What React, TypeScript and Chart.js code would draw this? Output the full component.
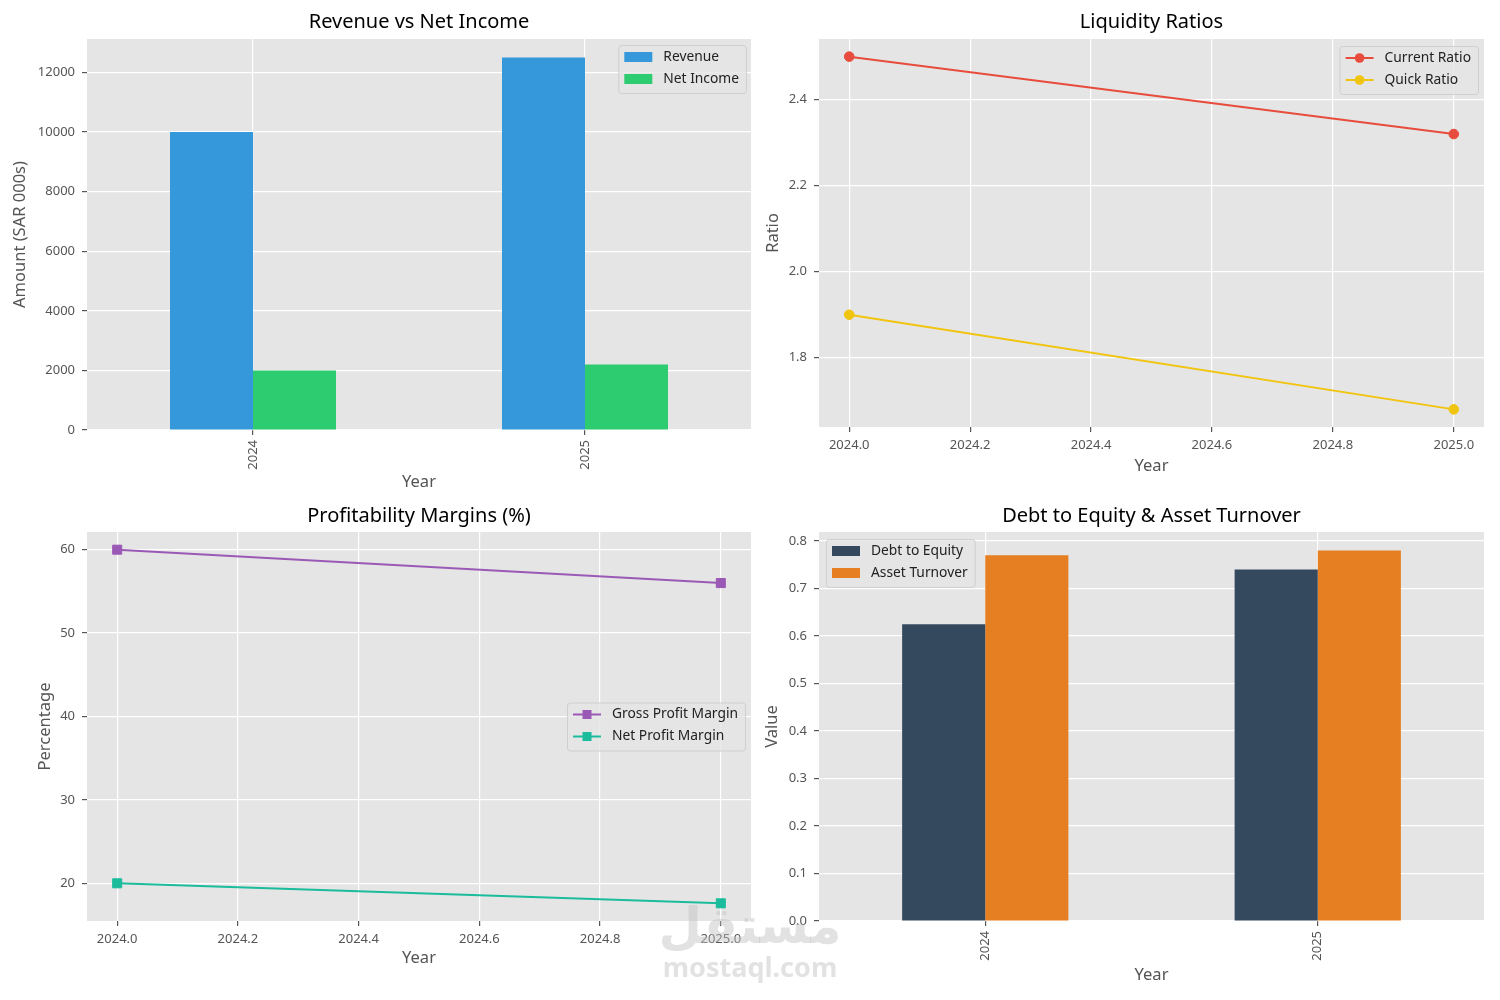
import React, { useEffect, useRef } from 'react';
import { Chart, registerables } from 'chart.js';

Chart.register(...registerables);

const FONT = '"Noto Sans", "Open Sans", sans-serif';

// ---------- data ----------
const YEARS = ['2024', '2025'];
const YEAR_VALUES = [2024, 2025];
const REVENUE = [10000, 12500];
const NET_INCOME = [2000, 2200];
const CURRENT_RATIO = [2.5, 2.32];
const QUICK_RATIO = [1.9, 1.68];
const GROSS_MARGIN = [60, 56];
const NET_MARGIN = [20, 17.6];
const DEBT_TO_EQUITY = [0.625, 0.74];
const ASSET_TURNOVER = [0.77, 0.78];

// ---------- tick labels ----------
const AMOUNT_TICKS = [0, 2000, 4000, 6000, 8000, 10000, 12000];
const RATIO_TICKS = [1.8, 2.0, 2.2, 2.4];
const PERCENT_TICKS = [20, 30, 40, 50, 60];
const VALUE_TICKS = [0, 0.1, 0.2, 0.3, 0.4, 0.5, 0.6, 0.7, 0.8];
const YEAR_TICKS = [2024.0, 2024.2, 2024.4, 2024.6, 2024.8, 2025.0];

type Item = { label: string; color: string; kind: 'patch' | 'line'; marker?: 'circle' | 'rect' };
type Spec = {
  left: number; top: number; width: number; height: number;
  area: [number, number, number, number];
  titleCenter: number; yTitleCenter: number; xTitleCenter: number;
  legend: { items: Item[]; anchor: 'ur' | 'ul' | 'cr'; dx: number; dy: number };
  build: (spec: Spec) => any;
};

const bgPlugin = {
  id: 'ggBg',
  beforeDraw(chart: any) {
    const { ctx, chartArea: a } = chart;
    ctx.save();
    ctx.fillStyle = '#e5e5e5';
    ctx.fillRect(a.left, a.top, a.right - a.left, a.bottom - a.top);
    ctx.restore();
  },
};

function legendPlugin(spec: Spec) {
  const { items, anchor, dx, dy } = spec.legend;
  return {
    id: 'ggLegend',
    afterDraw(chart: any) {
      const ctx = chart.ctx as CanvasRenderingContext2D;
      const a = chart.chartArea;
      ctx.save();
      ctx.font = `13.8px ${FONT}`;
      const tw = Math.max(...items.map((it) => ctx.measureText(it.label).width));
      const w = 45 + tw + 7;
      const h = 4 + items.length * 22;
      const x0 = anchor === 'ul' ? a.left + dx : a.right - dx - w;
      const y0 = anchor === 'cr' ? (a.top + a.bottom) / 2 - h / 2 : a.top + dy;
      ctx.beginPath();
      (ctx as any).roundRect(x0 + 0.5, y0 + 0.5, w, h, 3);
      ctx.fillStyle = 'rgba(229,229,229,0.8)';
      ctx.fill();
      ctx.strokeStyle = 'rgba(204,204,204,0.9)';
      ctx.lineWidth = 1;
      ctx.stroke();
      items.forEach((it, i) => {
        const cy = y0 + 12 + i * 22;
        if (it.kind === 'patch') {
          ctx.fillStyle = it.color;
          ctx.fillRect(x0 + 6, cy - 5, 28, 10);
        } else {
          ctx.strokeStyle = it.color;
          ctx.lineWidth = 2;
          ctx.beginPath();
          ctx.moveTo(x0 + 6, cy);
          ctx.lineTo(x0 + 34, cy);
          ctx.stroke();
          ctx.fillStyle = it.color;
          if (it.marker === 'rect') {
            ctx.fillRect(x0 + 20 - 4.5, cy - 4.5, 9, 9);
          } else {
            ctx.beginPath();
            ctx.arc(x0 + 20, cy, 4.8, 0, Math.PI * 2);
            ctx.fill();
          }
        }
        ctx.fillStyle = '#222';
        ctx.textBaseline = 'middle';
        ctx.textAlign = 'left';
        ctx.fillText(it.label, x0 + 45, cy);
      });
      ctx.restore();
    },
  };
}

const TICK_FONT = { family: FONT, size: 13 };
const LABEL_FONT = { family: FONT, size: 16.5 };
const GRID = { color: '#ffffff', lineWidth: 1.2, tickColor: '#555555', tickLength: 5 };

function yScale(spec: Spec, ticks: number[], min: number, max: number, fmt: (v: number) => string, title: string) {
  return {
    type: 'linear',
    min,
    max,
    afterBuildTicks: (s: any) => { s.ticks = ticks.map((v) => ({ value: v })); },
    afterFit: (s: any) => { s.width = spec.area[0]; },
    ticks: { color: '#555', font: TICK_FONT, padding: 7, callback: (v: any) => fmt(Number(v)) },
    grid: GRID,
    border: { display: false },
    title: { display: true, text: title, color: '#555', font: LABEL_FONT, padding: { top: spec.yTitleCenter - 9.9, bottom: 0 } },
  };
}

function xTitle(spec: Spec) {
  return { display: true, text: 'Year', color: '#555', font: LABEL_FONT, padding: { top: 0, bottom: spec.height - spec.xTitleCenter - 9.9 } };
}

function catX(spec: Spec) {
  return {
    type: 'category',
    offset: true,
    afterFit: (s: any) => { s.height = spec.height - spec.area[3]; },
    ticks: { color: '#555', font: TICK_FONT, padding: 5, maxRotation: 90, minRotation: 90, autoSkip: false },
    grid: { ...GRID, offset: false },
    border: { display: false },
    title: xTitle(spec),
  };
}

function yearX(spec: Spec) {
  const lo = Math.min(...YEAR_VALUES), hi = Math.max(...YEAR_VALUES);
  const m = (hi - lo) * 0.05;
  return {
    type: 'linear',
    min: lo - m,
    max: hi + m,
    afterBuildTicks: (s: any) => { s.ticks = YEAR_TICKS.map((v) => ({ value: v })); },
    afterFit: (s: any) => { s.height = spec.height - spec.area[3]; },
    ticks: { color: '#555', font: TICK_FONT, padding: 5, maxRotation: 0, callback: (v: any) => Number(v).toFixed(1) },
    grid: GRID,
    border: { display: false },
    title: xTitle(spec),
  };
}

function padded(arrs: number[][]) {
  const all = arrs.flat();
  const lo = Math.min(...all), hi = Math.max(...all);
  const m = (hi - lo) * 0.05;
  return [lo - m, hi + m];
}

function baseOptions(spec: Spec, title: string, scales: any) {
  return {
    responsive: false,
    animation: false,
    devicePixelRatio: 1,
    layout: { padding: { left: 0, top: 0, right: spec.width - spec.area[2], bottom: 0 } },
    plugins: {
      legend: { display: false },
      tooltip: { enabled: false },
      title: {
        display: true,
        text: title,
        color: '#000',
        fullSize: false,
        font: { family: FONT, size: 20, weight: 'normal' },
        padding: { top: spec.titleCenter - 11.5, bottom: spec.area[1] - 24 - (spec.titleCenter - 11.5) },
      },
    },
    scales,
  };
}

function lineDataset(label: string, values: number[], color: string, style: 'circle' | 'rect') {
  return {
    label,
    data: YEAR_VALUES.map((x, i) => ({ x, y: values[i] })),
    borderColor: color,
    backgroundColor: color,
    borderWidth: 2,
    tension: 0,
    pointStyle: style,
    pointRadius: style === 'rect' ? 6.4 : 4.8,
    pointBackgroundColor: color,
    pointBorderColor: color,
    pointBorderWidth: 1,
  };
}

const SPECS: Spec[] = [
  {
    left: 0, top: 0, width: 760, height: 500,
    area: [87, 39, 751, 430], titleCenter: 22, yTitleCenter: 20, xTitleCenter: 482,
    legend: {
      anchor: 'ur', dx: 5, dy: 6,
      items: [
        { label: 'Revenue', color: '#3498db', kind: 'patch' },
        { label: 'Net Income', color: '#2ecc71', kind: 'patch' },
      ],
    },
    build: (spec) => ({
      type: 'bar',
      data: {
        labels: YEARS,
        datasets: [
          { label: 'Revenue', data: REVENUE, backgroundColor: '#3498db', borderWidth: 0, categoryPercentage: 0.5, barPercentage: 1.0 },
          { label: 'Net Income', data: NET_INCOME, backgroundColor: '#2ecc71', borderWidth: 0, categoryPercentage: 0.5, barPercentage: 1.0 },
        ],
      },
      options: baseOptions(spec, 'Revenue vs Net Income', {
        x: catX(spec),
        y: yScale(spec, AMOUNT_TICKS, 0, Math.max(...REVENUE, ...NET_INCOME) * 1.05, (v) => String(Math.round(v)), 'Amount (SAR 000s)'),
      }),
    }),
  },
  {
    left: 760, top: 0, width: 740, height: 500,
    area: [59, 39, 724, 427], titleCenter: 22, yTitleCenter: 13, xTitleCenter: 466,
    legend: {
      anchor: 'ur', dx: 6, dy: 7,
      items: [
        { label: 'Current Ratio', color: '#e74c3c', kind: 'line', marker: 'circle' },
        { label: 'Quick Ratio', color: '#f1c40f', kind: 'line', marker: 'circle' },
      ],
    },
    build: (spec) => {
      const [lo, hi] = padded([CURRENT_RATIO, QUICK_RATIO]);
      return {
        type: 'line',
        data: {
          datasets: [
            lineDataset('Current Ratio', CURRENT_RATIO, '#e74c3c', 'circle'),
            lineDataset('Quick Ratio', QUICK_RATIO, '#f1c40f', 'circle'),
          ],
        },
        options: baseOptions(spec, 'Liquidity Ratios', {
          x: yearX(spec),
          y: yScale(spec, RATIO_TICKS, lo, hi, (v) => v.toFixed(1), 'Ratio'),
        }),
      };
    },
  },
  {
    left: 0, top: 500, width: 760, height: 500,
    area: [87, 32, 751, 421], titleCenter: 16, yTitleCenter: 45, xTitleCenter: 458,
    legend: {
      anchor: 'cr', dx: 6, dy: 0,
      items: [
        { label: 'Gross Profit Margin', color: '#9b59b6', kind: 'line', marker: 'rect' },
        { label: 'Net Profit Margin', color: '#1abc9c', kind: 'line', marker: 'rect' },
      ],
    },
    build: (spec) => {
      const [lo, hi] = padded([GROSS_MARGIN, NET_MARGIN]);
      return {
        type: 'line',
        data: {
          datasets: [
            lineDataset('Gross Profit Margin', GROSS_MARGIN, '#9b59b6', 'rect'),
            lineDataset('Net Profit Margin', NET_MARGIN, '#1abc9c', 'rect'),
          ],
        },
        options: baseOptions(spec, 'Profitability Margins (%)', {
          x: yearX(spec),
          y: yScale(spec, PERCENT_TICKS, lo, hi, (v) => String(Math.round(v)), 'Percentage'),
        }),
      };
    },
  },
  {
    left: 760, top: 500, width: 740, height: 500,
    area: [59, 32, 724, 421], titleCenter: 16, yTitleCenter: 12, xTitleCenter: 475,
    legend: {
      anchor: 'ul', dx: 7, dy: 7,
      items: [
        { label: 'Debt to Equity', color: '#34495e', kind: 'patch' },
        { label: 'Asset Turnover', color: '#e67e22', kind: 'patch' },
      ],
    },
    build: (spec) => ({
      type: 'bar',
      data: {
        labels: YEARS,
        datasets: [
          { label: 'Debt to Equity', data: DEBT_TO_EQUITY, backgroundColor: '#34495e', borderWidth: 0, categoryPercentage: 0.5, barPercentage: 1.0 },
          { label: 'Asset Turnover', data: ASSET_TURNOVER, backgroundColor: '#e67e22', borderWidth: 0, categoryPercentage: 0.5, barPercentage: 1.0 },
        ],
      },
      options: baseOptions(spec, 'Debt to Equity & Asset Turnover', {
        x: catX(spec),
        y: yScale(spec, VALUE_TICKS, 0, Math.max(...DEBT_TO_EQUITY, ...ASSET_TURNOVER) * 1.05, (v) => v.toFixed(1), 'Value'),
      }),
    }),
  },
];

function Panel({ spec }: { spec: Spec }) {
  const ref = useRef<HTMLCanvasElement | null>(null);
  useEffect(() => {
    if (!ref.current) return;
    const cfg = spec.build(spec);
    cfg.plugins = [bgPlugin, legendPlugin(spec)];
    const chart = new Chart(ref.current, cfg);
    return () => chart.destroy();
  }, [spec]);
  return (
    <div style={{ position: 'absolute', left: spec.left, top: spec.top, width: spec.width, height: spec.height }}>
      <canvas ref={ref} width={spec.width} height={spec.height} style={{ width: spec.width, height: spec.height, display: 'block' }} />
    </div>
  );
}

export default function App() {
  return (
    <div style={{ position: 'absolute', left: 0, top: 0, width: 1500, height: 1000, background: '#fff', overflow: 'hidden' }}>
      {SPECS.map((s, i) => (
        <Panel key={i} spec={s} />
      ))}
      <div style={{ position: 'absolute', left: 640, top: 901, width: 220, textAlign: 'center', pointerEvents: 'none', color: 'rgba(190,190,190,0.45)', fontWeight: 'bold', lineHeight: 1 }}>
        <div style={{ fontFamily: '"DejaVu Sans", sans-serif', fontSize: 50 }}>مستقل</div>
        <div style={{ fontFamily: FONT, fontSize: 27, marginTop: 2 }}>mostaql.com</div>
      </div>
    </div>
  );
}
